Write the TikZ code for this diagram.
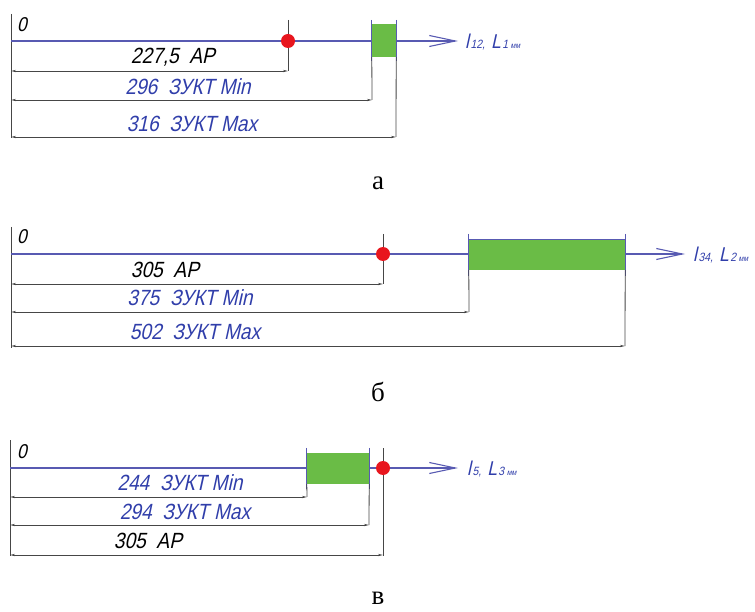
\documentclass[tikz,border=0pt]{standalone}
\usepackage{fontspec}
\setmainfont{Liberation Serif}
\newfontfamily\gost[FakeSlant=0.22,FakeStretch=0.87]{Liberation Sans}
\usetikzlibrary{arrows.meta,calc}
\definecolor{axblue}{RGB}{88,90,178}
\definecolor{txblue}{RGB}{48,62,170}
\definecolor{gfill}{RGB}{106,188,70}
\definecolor{rdot}{RGB}{232,22,30}
\definecolor{dgray}{RGB}{70,70,70}
\tikzset{
  axis/.style={draw=axblue,line width=1.1pt,-{Straight Barb[length=26pt,width=11pt,line width=1.1pt]}},
  ext/.style={draw=dgray,line width=0.8pt},
  dimline/.style={draw=dgray,line width=0.8pt,{Stealth[length=5pt,width=2.2pt]}-{Stealth[length=5pt,width=2.2pt]}},
  tickb/.style={draw=axblue,line width=1pt},
  gbox/.style={fill=gfill,draw=none,inner sep=0pt,minimum width=#1},
  dotn/.style={circle,fill=rdot,draw=none,minimum size=14pt,inner sep=0pt},
  blk/.style={font=\gost\fontsize{22}{22}\selectfont,text=black,inner sep=0pt},
  blu/.style={font=\gost\fontsize{22}{22}\selectfont,text=txblue,inner sep=0pt},
  zero/.style={font=\gost\fontsize{20}{20}\selectfont,text=black,inner sep=0pt},
  axlab/.style={font=\gost\fontsize{20}{20}\selectfont,text=txblue,inner sep=0pt,anchor=west},
  panelcap/.style={font=\fontsize{27}{27}\selectfont,inner sep=0pt}
}
\newcommand{\axl}[2]{l\hspace{1.5pt}{\fontsize{12}{12}\selectfont #1,}\hspace{6pt}L\hspace{1.5pt}{\fontsize{12}{12}\selectfont #2\hspace{2.5pt}{\fontsize{8}{8}\selectfont мм}}}
\begin{document}
\begin{tikzpicture}[x=1pt,y=-1pt]
\useasboundingbox (0,0) rectangle (755,612);
% ---------- panel a ----------
\coordinate (a0) at (11,41);
\coordinate (aend) at (458,41);
\draw[ext] (11,14) -- (11,138);
\draw[axis] (a0) -- (aend);
\draw[ext] (288,20) -- (288,71);
\node[gbox=24pt,minimum height=33pt] (ag) at (384,40.5) {};
\draw[tickb] ($(ag.north west)+(0,-4)$) -- ($(ag.south west)+(0,4)$);
\draw[tickb] ($(ag.north east)+(0,-4)$) -- ($(ag.south east)+(0,4)$);
\draw[ext] (ag.south west) -- (372,100);
\draw[ext] (ag.south east) -- (396,137);
\node[dotn] (ar) at (288,41) {};
\draw[dimline] (11,71) -- (288,71);
\draw[dimline] (11,100) -- (372,100);
\draw[dimline] (11,137) -- (396,137);
\node[zero] (az) at (22,25) {0};
\node[blk] (at1) at (173,57) {227,5\ \ AP};
\node[blu] (at2) at (188,87) {296\ \ ЗУКТ Min};
\node[blu] (at3) at (192,124) {316\ \ ЗУКТ Max};
\node[axlab] (al) at (465,42) {\axl{12}{1}};
\node[panelcap] (ac) at (378,183) {а};
% ---------- panel b ----------
\coordinate (b0) at (11,254);
\coordinate (bend) at (685,254);
\draw[ext] (11,227) -- (11,348);
\draw[axis] (b0) -- (bend);
\draw[ext] (383,234) -- (383,284);
\node[gbox=156pt,minimum height=30pt] (bg) at (547,255) {};
\draw[tickb] ($(bg.north west)+(0,-6)$) -- ($(bg.south west)+(0,6)$);
\draw[tickb] ($(bg.north east)+(0,-6)$) -- ($(bg.south east)+(0,6)$);
\draw[tickb,line width=0.8pt] (bg.north west) -- (bg.north east);
\draw[ext] (bg.south west) -- (469,312);
\draw[ext] (bg.south east) -- (625,346);
\node[dotn] (br) at (383,254) {};
\draw[dimline] (11,284) -- (383,284);
\draw[dimline] (11,312) -- (469,312);
\draw[dimline] (11,346) -- (625,346);
\node[zero] (bz) at (22,237) {0};
\node[blk] (bt1) at (165,270) {305\ \ AP};
\node[blu] (bt2) at (190,298) {375\ \ ЗУКТ Min};
\node[blu] (bt3) at (195,332) {502\ \ ЗУКТ Max};
\node[axlab] (bl) at (693,255) {\axl{34}{2}};
\node[panelcap] (bc) at (378,392) {б};
% ---------- panel v ----------
\coordinate (c0) at (10,468);
\coordinate (cend) at (458,468);
\draw[ext] (10,440) -- (10,556);
\draw[axis] (c0) -- (cend);
\node[gbox=62pt,minimum height=31pt] (cg) at (338,468.5) {};
\draw[tickb] ($(cg.north west)+(0,-5)$) -- ($(cg.south west)+(0,5)$);
\draw[tickb] ($(cg.north east)+(0,-5)$) -- ($(cg.south east)+(0,5)$);
\draw[ext] (cg.south west) -- (307,497);
\draw[ext] (cg.south east) -- (369,525);
\draw[ext] (383,448) -- (383,556);
\node[dotn] (cr) at (383,468) {};
\draw[dimline] (10,497) -- (307,497);
\draw[dimline] (10,525) -- (369,525);
\draw[dimline] (10,555) -- (383,555);
\node[zero] (cz) at (22,452) {0};
\node[blu] (ct1) at (180,483) {244\ \ ЗУКТ Min};
\node[blu] (ct2) at (185,512) {294\ \ ЗУКТ Max};
\node[blk] (ct3) at (148,541) {305\ \ AP};
\node[axlab] (cl) at (467,469) {\axl{5}{3}};
\node[panelcap] (cc) at (378,598) {в};
\end{tikzpicture}
\end{document}
